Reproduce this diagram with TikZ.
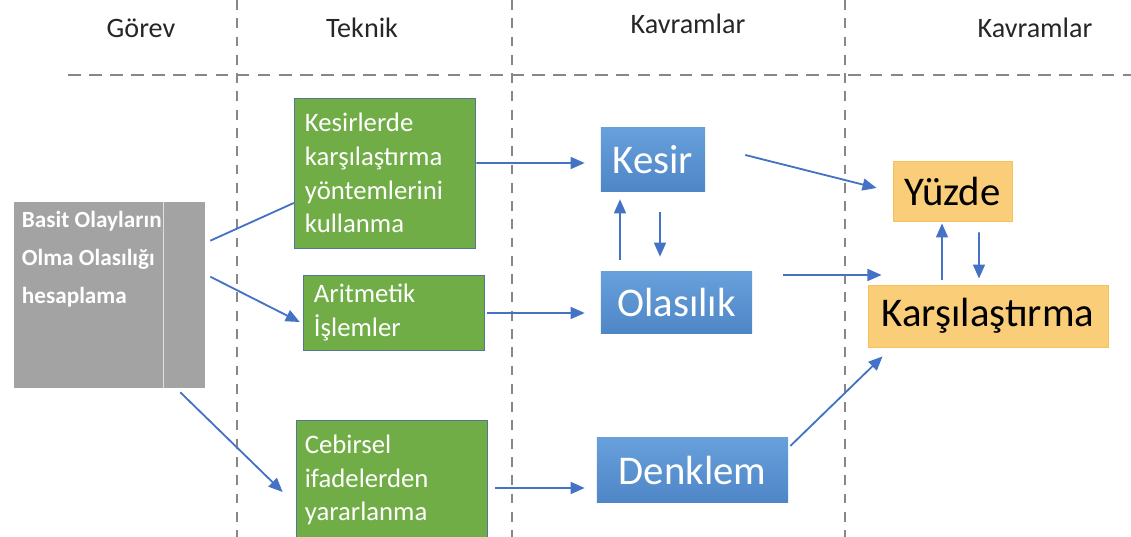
\documentclass[tikz,border=0pt]{standalone}
\usepackage{fontspec}
\setmainfont{Carlito}
\usetikzlibrary{arrows.meta,positioning,calc}
\definecolor{arrowblue}{RGB}{68,114,196}
\definecolor{taskgray}{RGB}{163,163,163}
\definecolor{techgreen}{RGB}{112,173,71}
\definecolor{techedge}{RGB}{84,118,150}
\definecolor{cpttop}{RGB}{104,160,220}
\definecolor{cptbot}{RGB}{78,134,199}
\definecolor{cptgold}{RGB}{250,206,120}
\definecolor{cptgoldedge}{RGB}{246,192,92}
\definecolor{guidegray}{RGB}{135,135,135}
\newcommand{\fsz}[2]{\fontsize{#1}{#2}\selectfont}

\begin{document}
\begin{tikzpicture}[x=0.025cm,y=-0.025cm,
  link/.style={draw=arrowblue,line width=1.3pt,-{Triangle[length=10pt,width=8.5pt]}},
  plainlink/.style={draw=arrowblue,line width=1.3pt},
  guide/.style={draw=guidegray,line width=0.9pt},
  head/.style={text=black!85,font=\fsz{20}{24}},
  taskbox/.style={fill=taskgray,minimum width=4.775cm,minimum height=4.65cm,inner sep=0pt},
  tasktext/.style={text=white,align=left,inner sep=0pt,font=\fsz{16.5}{27}\bfseries},
  techbox/.style={draw=techedge,line width=0.6pt,fill=techgreen,text=white,align=left,inner xsep=0.27cm,inner ysep=2pt,font=\fsz{19}{24}},
  cptbox/.style={top color=cpttop,bottom color=cptbot,text=white,inner sep=0pt,font=\fsz{29}{34}},
  goldbox/.style={fill=cptgold,draw=cptgoldedge,line width=0.6pt,text=black,inner sep=0pt,font=\fsz{29}{33}}]
\useasboundingbox (0,0) rectangle (1131,537);
% column guides
\foreach \x in {237,512,845}
  \draw[guide,dash pattern=on 7pt off 6pt] (\x,0) -- (\x,537);
\draw[guide,dash pattern=on 9pt off 6pt] (68,75) -- (1131,75);
\foreach \n/\x/\y/\t in {hGorev/141/28/Görev,hTeknik/362/28/Teknik,hKavA/688/24/Kavramlar,hKavB/1035/28/Kavramlar}
  \node[head] (\n) at (\x,\y) {\t};
% task
\node[taskbox] (gray) at (109.5,295) {};
\draw[white!65!taskgray,line width=0.6pt] ([shift={(53.5,0)}]gray.north) -- ([shift={(53.5,0)}]gray.south);
\node[tasktext,anchor=north west] (grayLbl) at ([shift={(8,9)}]gray.north west) {Basit Olayların\\Olma Olasılığı\\hesaplama};
% techniques
\node[techbox,text width=4.0cm,minimum height=3.75cm] (kesTek) at (385,173) {Kesirlerde\\karşılaştırma\\yöntemlerini\\kullanma};
\node[techbox,text width=4.0cm,minimum height=1.875cm] (aritTek) at (394,312.5) {Aritmetik\\İşlemler};
\node[techbox,text width=4.33cm,inner xsep=0.22cm,minimum height=3.0cm] (cebTek) at (391.5,480) {Cebirsel\\ifadelerden\\yararlanma};
% concepts
\node[cptbox,minimum width=2.6cm,minimum height=1.575cm] (kesir) at (653,159.5) {Kesir};
\node[cptbox,minimum width=3.775cm,minimum height=1.525cm] (olas) at (676.5,302.5) {Olasılık};
\node[cptbox,minimum width=4.775cm,minimum height=1.6cm] (denk) at (692.5,470) {Denklem};
\node[goldbox,minimum width=2.975cm,minimum height=1.5cm] (yuzde) at (952.5,191) {Yüzde};
\node[goldbox,minimum width=6.0cm,minimum height=1.55cm] (karsi) at (988,316) {Karşılaştırma};
% links
\draw[plainlink] ([shift={(5,39)}]gray.north east) -- ([shift={(0,30)}]kesTek.west);
\draw[link] ([shift={(5,75)}]gray.north east) -- ([shift={(-3,9.5)}]aritTek.west);
\draw[link] ([shift={(-25,4)}]gray.south east) -- ([shift={(-13,12)}]cebTek.west);
\draw[link] ([shift={(0,-10)}]kesTek.east) -- ([shift={(-16,3.5)}]kesir.west);
\draw[link] ([shift={(2,0.5)}]aritTek.east) -- ([shift={(-16,10.5)}]olas.west);
\draw[link] ([shift={(8,8)}]cebTek.east) -- ([shift={(-12,18)}]denk.west);
\draw[link] ([shift={(-56.5,-12)}]olas.north) -- ([shift={(-33,8)}]kesir.south);
\draw[link] ([shift={(7,21)}]kesir.south) -- ([shift={(-16.5,-15)}]olas.north);
\draw[link] ([shift={(40,-4.5)}]kesir.east) -- ([shift={(-16,-3)}]yuzde.west);
\draw[link] ([shift={(31,-27.5)}]olas.east) -- ([shift={(14,-41)}]karsi.west);
\draw[link] ([shift={(2,-24)}]denk.east) -- ([shift={(15,9)}]karsi.south west);
\draw[link] ([shift={(-46,-5)}]karsi.north) -- ([shift={(-10.5,2)}]yuzde.south);
\draw[link] ([shift={(26.5,11)}]yuzde.south) -- ([shift={(-9,-6)}]karsi.north);
\end{tikzpicture}
\end{document}
